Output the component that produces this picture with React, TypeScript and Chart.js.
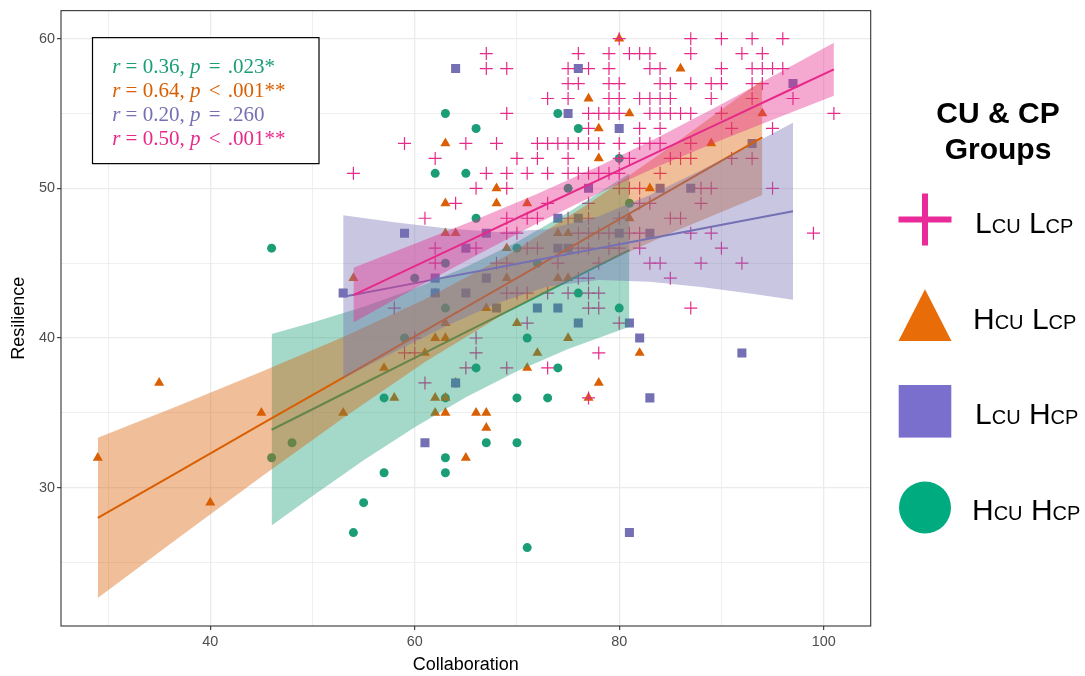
import React, { useEffect, useRef } from 'react';
import { Chart, registerables } from 'chart.js';

Chart.register(...registerables);

// ---------- axes ----------
const X_TICKS = [30, 40, 50, 60, 70, 80, 90, 100];
const X_LABELS = [40, 60, 80, 100];
const Y_TICKS = [25, 30, 35, 40, 45, 50, 55, 60];
const Y_LABELS = [30, 40, 50, 60];
const X_TITLE = 'Collaboration';
const Y_TITLE = 'Resilience';

// ---------- raw points [Collaboration, Resilience] ----------
const HCU_HCP: [number, number][] = [
  [63, 55], [74, 55], [66, 54], [76, 54], [80, 52], [62, 51], [65, 51], [75, 50], [81, 49], [66, 48],
  [46, 46], [70, 46], [63, 45], [72, 45], [60, 44], [76, 43], [63, 42], [80, 42], [59, 40], [71, 40],
  [66, 38], [74, 38], [64, 37], [57, 36], [63, 36], [70, 36], [73, 36], [48, 33], [67, 33], [70, 33],
  [46, 32], [63, 32], [57, 31], [63, 31], [55, 29], [54, 27], [71, 26],
];
const HCU_LCP: [number, number][] = [
  [80, 60], [86, 58], [77, 56], [81, 55], [94, 55], [78, 54], [63, 53], [89, 53], [78, 52], [68, 50],
  [83, 50], [63, 49], [68, 49], [71, 49], [81, 48], [63, 47], [64, 47], [74, 47], [75, 47], [69, 46],
  [54, 44], [69, 44], [74, 44], [75, 44], [62, 43], [67, 42], [63, 41], [70, 41], [62, 40], [63, 40],
  [75, 40], [61, 39], [72, 39], [82, 39], [57, 38], [71, 38], [64, 37], [78, 37], [35, 37], [58, 36],
  [62, 36], [63, 36], [77, 36], [45, 35], [53, 35], [62, 35], [63, 35], [66, 35], [67, 35], [67, 34],
  [65, 32], [29, 32], [40, 29],
];
const LCU_HCP: [number, number][] = [
  [64, 58], [76, 58], [97, 57], [75, 55], [80, 54], [93, 53], [77, 50], [84, 50], [87, 50], [74, 48],
  [76, 48], [59, 47], [67, 47], [80, 47], [83, 47], [65, 46], [74, 46], [75, 46], [62, 44], [67, 44],
  [53, 43], [62, 43], [65, 43], [68, 42], [72, 42], [74, 42], [76, 41], [81, 41], [82, 40], [92, 39],
  [64, 37], [83, 36], [61, 33], [81, 27],
];
const LCU_LCP: [number, number][] = [
  [80, 60], [87, 60], [90, 60], [93, 60], [96, 60],
  [67, 59], [76, 59], [79, 59], [81, 59], [82, 59], [83, 59], [87, 59], [92, 59], [94, 59],
  [67, 58], [69, 58], [75, 58], [77, 58], [79, 58], [83, 58], [84, 58], [90, 58], [93, 58], [94, 58], [95, 58], [96, 58],
  [75, 57], [76, 57], [79, 57], [80, 57], [84, 57], [85, 57], [87, 57], [89, 57], [90, 57], [93, 57], [94, 57],
  [73, 56], [75, 56], [79, 56], [80, 56], [82, 56], [83, 56], [84, 56], [85, 56], [89, 56], [93, 56], [97, 56],
  [69, 55], [77, 55], [78, 55], [79, 55], [80, 55], [83, 55], [84, 55], [85, 55], [86, 55], [87, 55], [90, 55], [101, 55],
  [77, 54], [82, 54], [84, 54], [91, 54], [95, 54],
  [59, 53], [65, 53], [68, 53], [72, 53], [73, 53], [74, 53], [75, 53], [76, 53], [77, 53], [78, 53], [80, 53], [82, 53], [83, 53], [84, 53], [87, 53],
  [62, 52], [70, 52], [72, 52], [75, 52], [80, 52], [81, 52], [85, 52], [86, 52], [87, 52], [91, 52], [93, 52],
  [54, 51], [67, 51], [69, 51], [71, 51], [73, 51], [75, 51], [76, 51], [77, 51], [78, 51], [79, 51], [80, 51], [84, 51],
  [66, 50], [69, 50], [80, 50], [81, 50], [82, 50], [88, 50], [89, 50], [95, 50],
  [64, 49], [73, 49], [77, 49], [82, 49], [83, 49], [88, 49],
  [61, 48], [69, 48], [71, 48], [72, 48], [75, 48], [77, 48], [80, 48], [85, 48], [86, 48],
  [69, 47], [70, 47], [76, 47], [77, 47], [78, 47], [79, 47], [81, 47], [82, 47], [87, 47], [89, 47], [99, 47],
  [62, 46], [66, 46], [71, 46], [72, 46], [76, 46], [77, 46], [79, 46], [80, 46], [82, 46], [90, 46],
  [62, 45], [68, 45], [69, 45], [74, 45], [78, 45], [83, 45], [84, 45], [88, 45], [92, 45],
  [76, 44], [77, 44], [85, 44],
  [69, 43], [70, 43], [71, 43], [73, 43], [75, 43], [77, 43], [78, 43],
  [58, 42], [77, 42], [78, 42], [87, 42],
  [71, 41], [80, 41], [60, 40], [66, 40],
  [59, 39], [60, 39], [66, 39], [78, 39],
  [65, 38], [69, 38], [73, 38], [61, 37], [77, 36],
];

// ---------- fitted lines and 95% bands ----------
const HCU_HCP_FIT_X = [46, 50, 55, 60, 65, 70, 75, 81];
const HCU_HCP_FIT_Y = [33.87, 35.24, 36.96, 38.67, 40.39, 42.1, 43.82, 45.88];
const HCU_HCP_LO = [27.47, 29.45, 31.83, 34.04, 36.04, 37.78, 39.26, 40.75];
const HCU_HCP_HI = [40.27, 41.03, 42.09, 43.3, 44.74, 46.42, 48.38, 51.01];

const HCU_LCP_FIT_X = [29, 37, 45, 53, 61, 69, 77, 85, 94];
const HCU_LCP_FIT_Y = [27.98, 31.11, 34.24, 37.36, 40.49, 43.62, 46.75, 49.88, 53.4];
const HCU_LCP_LO = [22.63, 26.71, 30.73, 34.66, 38.39, 41.72, 44.53, 46.99, 49.56];
const HCU_LCP_HI = [33.33, 35.51, 37.75, 40.06, 42.59, 45.52, 48.97, 52.77, 57.24];

const LCU_HCP_FIT_X = [53, 58, 63, 68, 73, 78, 83, 88, 93, 97];
const LCU_HCP_FIT_Y = [42.75, 43.4, 44.05, 44.7, 45.35, 46.0, 46.65, 47.3, 47.95, 48.47];
const LCU_HCP_LO = [37.3, 39.07, 40.77, 42.31, 43.44, 43.87, 43.75, 43.4, 42.95, 42.56];
const LCU_HCP_HI = [48.2, 47.73, 47.33, 47.09, 47.26, 48.13, 49.55, 51.2, 52.95, 54.38];

const LCU_LCP_FIT_X = [54, 60, 66, 72, 78, 84, 90, 96, 101];
const LCU_LCP_FIT_Y = [42.87, 44.8, 46.72, 48.65, 50.57, 52.5, 54.42, 56.35, 57.95];
const LCU_LCP_LO = [41.04, 43.3, 45.52, 47.67, 49.67, 51.52, 53.22, 54.85, 56.18];
const LCU_LCP_HI = [44.7, 46.3, 47.92, 49.63, 51.47, 53.48, 55.62, 57.85, 59.72];

// ---------- annotation & legend text ----------
const R_VALUES = ['0.36', '0.64', '0.20', '0.50'];
const P_OPS = ['=', '<', '=', '<'];
const P_VALUES = ['.023*', '.001**', '.260', '.001**'];
const LEGEND_TITLE = ['CU & CP', 'Groups'];
const LEGEND_LABELS: [string, string, string, string][] = [
  ['L', 'CU', 'L', 'CP'],
  ['H', 'CU', 'L', 'CP'],
  ['L', 'CU', 'H', 'CP'],
  ['H', 'CU', 'H', 'CP'],
];

// ---------- styles ----------
const GREEN = '#1B9E77';
const ORANGE = '#D95F02';
const PURPLE = '#7570B3';
const PINK = '#E7298A';
const ANNOT_COLORS = [GREEN, ORANGE, PURPLE, PINK];
const LEGEND_COLORS = ['#EA2A99', '#E86C08', '#7B6FCD', '#00AB7F'];
const SANS = "'Liberation Sans', Arial, sans-serif";
const SERIF = "'Liberation Serif', 'Times New Roman', serif";

const alpha = (hex: string, a: number) => {
  const n = parseInt(hex.slice(1), 16);
  return `rgba(${(n >> 16) & 255},${(n >> 8) & 255},${n & 255},${a})`;
};
const pts = (arr: [number, number][]) => arr.map(([x, y]) => ({ x, y }));
const zip = (xs: number[], ys: number[]) => xs.map((x, i) => ({ x, y: ys[i] }));

const decorPlugin = {
  id: 'decor',
  afterDatasetsDraw(chart: any) {
    const { ctx, chartArea: ca } = chart;
    ctx.save();
    // annotation box
    const bx = ca.left + 31.5, by = ca.top + 27, bw = 226.5, bh = 126;
    ctx.fillStyle = '#ffffff';
    ctx.fillRect(bx, by, bw, bh);
    ctx.strokeStyle = '#000000';
    ctx.lineWidth = 1.2;
    ctx.strokeRect(bx, by, bw, bh);
    const fs = 21;
    const italic = `italic ${fs}px ${SERIF}`;
    const normal = `${fs}px ${SERIF}`;
    ctx.textBaseline = 'alphabetic';
    ctx.textAlign = 'left';
    for (let i = 0; i < 4; i++) {
      const base = by + 35.2 + i * 24.1;
      let x = bx + 19.7;
      ctx.fillStyle = ANNOT_COLORS[i];
      const segs: [string, string, number][] = [
        ['r', italic, 0],
        [' = ' + R_VALUES[i] + ', ', normal, 0],
        ['p', italic, 3],
        [' ' + P_OPS[i] + ' ', normal, 2],
        [P_VALUES[i], normal, 0],
      ];
      for (const [t, f, extra] of segs) {
        ctx.font = f;
        ctx.fillText(t, x, base);
        x += ctx.measureText(t).width + extra;
      }
    }
    // panel border
    ctx.strokeStyle = '#333333';
    ctx.lineWidth = 1.1;
    ctx.strokeRect(ca.left, ca.top, ca.right - ca.left, ca.bottom - ca.top);
    ctx.restore();
  },
  afterDraw(chart: any) {
    const { ctx } = chart;
    ctx.save();
    ctx.fillStyle = '#000000';
    ctx.textAlign = 'center';
    ctx.textBaseline = 'alphabetic';
    ctx.font = `bold 30px ${SANS}`;
    ctx.fillText(LEGEND_TITLE[0], 998, 123);
    ctx.fillText(LEGEND_TITLE[1], 998, 158.5);

    const cx = 925;
    const centers = [219.5, 315, 411.3, 507.5];
    const baselines = [233.3, 329.3, 423.5, 520];
    const starts = [975, 973, 975, 972];
    // cross
    ctx.strokeStyle = LEGEND_COLORS[0];
    ctx.lineWidth = 6;
    ctx.beginPath();
    ctx.moveTo(cx - 26.5, centers[0]);
    ctx.lineTo(cx + 26.5, centers[0]);
    ctx.moveTo(cx, centers[0] - 26);
    ctx.lineTo(cx, centers[0] + 26);
    ctx.stroke();
    // triangle
    ctx.fillStyle = LEGEND_COLORS[1];
    ctx.beginPath();
    ctx.moveTo(cx, centers[1] - 25.7);
    ctx.lineTo(cx + 26.5, centers[1] + 26);
    ctx.lineTo(cx - 26.5, centers[1] + 26);
    ctx.closePath();
    ctx.fill();
    // square
    ctx.fillStyle = LEGEND_COLORS[2];
    ctx.fillRect(cx - 26.3, centers[2] - 26.3, 52.6, 52.6);
    // circle
    ctx.fillStyle = LEGEND_COLORS[3];
    ctx.beginPath();
    ctx.arc(cx, centers[3], 26, 0, Math.PI * 2);
    ctx.fill();

    ctx.fillStyle = '#000000';
    ctx.textAlign = 'left';
    const big = `30px ${SANS}`;
    const small = `20px ${SANS}`;
    for (let i = 0; i < 4; i++) {
      let x = starts[i];
      const [a, b, c, d] = LEGEND_LABELS[i];
      const segs: [string, string][] = [[a, big], [b, small], [' ', big], [c, big], [d, small]];
      for (const [t, f] of segs) {
        ctx.font = f;
        ctx.fillText(t, x, baselines[i]);
        x += ctx.measureText(t).width;
      }
    }
    ctx.restore();
  },
};

export default function App() {
  const ref = useRef<HTMLCanvasElement | null>(null);
  useEffect(() => {
    if (!ref.current) return;
    const pointSets: any[] = [
      { label: 'HCU HCP', data: pts(HCU_HCP), pointStyle: 'circle', pointRadius: 4.5, pointBackgroundColor: GREEN, pointBorderWidth: 0, pointBorderColor: GREEN },
      { label: 'HCU LCP', data: pts(HCU_LCP), pointStyle: 'triangle', pointRadius: 5.8, pointBackgroundColor: ORANGE, pointBorderWidth: 0, pointBorderColor: ORANGE },
      { label: 'LCU HCP', data: pts(LCU_HCP), pointStyle: 'rect', pointRadius: 6.4, pointBackgroundColor: PURPLE, pointBorderWidth: 0, pointBorderColor: PURPLE },
      { label: 'LCU LCP', data: pts(LCU_LCP), pointStyle: 'cross', pointRadius: 6.5, pointBackgroundColor: PINK, pointBorderWidth: 1.2, pointBorderColor: PINK },
    ].map((d) => ({ ...d, type: 'scatter', showLine: false }));

    const fits: [number[], number[], number[], number[], string][] = [
      [HCU_HCP_FIT_X, HCU_HCP_FIT_Y, HCU_HCP_LO, HCU_HCP_HI, GREEN],
      [HCU_LCP_FIT_X, HCU_LCP_FIT_Y, HCU_LCP_LO, HCU_LCP_HI, ORANGE],
      [LCU_HCP_FIT_X, LCU_HCP_FIT_Y, LCU_HCP_LO, LCU_HCP_HI, PURPLE],
      [LCU_LCP_FIT_X, LCU_LCP_FIT_Y, LCU_LCP_LO, LCU_LCP_HI, PINK],
    ];
    const fitSets: any[] = [];
    for (const [xs, fy, lo, hi, col] of fits) {
      fitSets.push({ type: 'line', data: zip(xs, hi), borderColor: 'rgba(0,0,0,0)', borderWidth: 0, pointRadius: 0, fill: '+1', backgroundColor: alpha(col, 0.4), tension: 0 });
      fitSets.push({ type: 'line', data: zip(xs, lo), borderColor: 'rgba(0,0,0,0)', borderWidth: 0, pointRadius: 0, fill: false, tension: 0 });
      fitSets.push({ type: 'line', data: zip(xs, fy), borderColor: col, borderWidth: 2, pointRadius: 0, fill: false, tension: 0 });
    }
    const datasets = [...pointSets, ...fitSets].map((d, i, arr) => ({ ...d, order: arr.length - i }));

    const isMajorX = (v: number) => X_LABELS.includes(v);
    const isMajorY = (v: number) => Y_LABELS.includes(v);
    const tickFont = { family: SANS, size: 14.4 };
    const titleFont = { family: SANS, size: 18 };

    const chart = new Chart(ref.current, {
      type: 'scatter',
      data: { datasets },
      options: {
        responsive: false,
        animation: false,
        events: [],
        layout: { padding: { left: 0, top: 10.5, right: 214.3, bottom: 0 } },
        plugins: { legend: { display: false }, tooltip: { enabled: false } },
        scales: {
          x: {
            type: 'linear',
            min: 25.4,
            max: 104.6,
            afterBuildTicks: (s: any) => { s.ticks = X_TICKS.map((v) => ({ value: v })); },
            afterFit: (s: any) => { s.height = 50; },
            ticks: {
              autoSkip: false, maxRotation: 0, padding: 3, color: '#4D4D4D', font: tickFont,
              callback: (v: any) => (isMajorX(Number(v)) ? String(v) : ''),
            },
            grid: {
              color: '#EBEBEB',
              lineWidth: (c: any) => (c.tick && isMajorX(c.tick.value) ? 1.3 : 0.8),
              tickColor: (c: any) => (c.tick && isMajorX(c.tick.value) ? '#333333' : 'rgba(0,0,0,0)'),
              tickLength: 4,
              tickWidth: 1.1,
            },
            border: { display: false },
            title: { display: true, text: X_TITLE, color: '#000000', font: titleFont, padding: { top: 0, bottom: 0 } },
          },
          y: {
            type: 'linear',
            min: 20.76,
            max: 61.87,
            afterBuildTicks: (s: any) => { s.ticks = Y_TICKS.map((v) => ({ value: v })); },
            afterFit: (s: any) => { s.width = 61; },
            ticks: {
              autoSkip: false, padding: 2, color: '#4D4D4D', font: tickFont,
              callback: (v: any) => (isMajorY(Number(v)) ? String(v) : ''),
            },
            grid: {
              color: '#EBEBEB',
              lineWidth: (c: any) => (c.tick && isMajorY(c.tick.value) ? 1.3 : 0.8),
              tickColor: (c: any) => (c.tick && isMajorY(c.tick.value) ? '#333333' : 'rgba(0,0,0,0)'),
              tickLength: 4,
              tickWidth: 1.1,
            },
            border: { display: false },
            title: { display: true, text: Y_TITLE, color: '#000000', font: titleFont, padding: { top: 8.5, bottom: 0 } },
          },
        },
      } as any,
      plugins: [decorPlugin],
    } as any);
    return () => chart.destroy();
  }, []);

  return (
    <div style={{ position: 'absolute', left: 0, top: 0, width: 1085, height: 676, background: '#ffffff' }}>
      <canvas ref={ref} width={1085} height={676} style={{ display: 'block' }} />
    </div>
  );
}
